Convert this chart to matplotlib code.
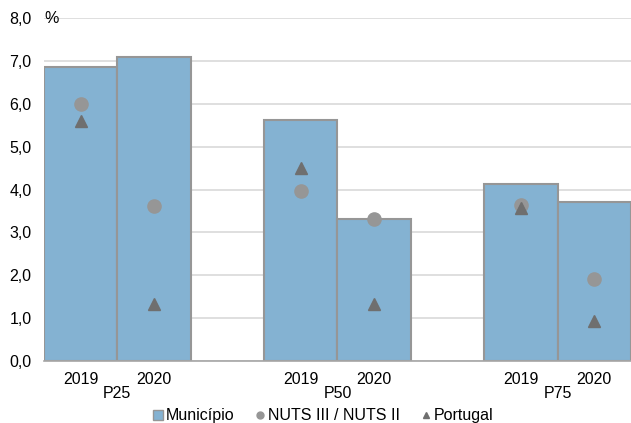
import matplotlib.pyplot as plt
from matplotlib.lines import Line2D
from matplotlib.ticker import FuncFormatter

plt.rcParams['font.family'] = ['Liberation Sans', 'DejaVu Sans']
plt.rcParams['font.size'] = 11.5

groups = ["P25", "P50", "P75"]
years = ["2019", "2020"]
municipio = [6.85, 7.1, 5.62, 3.32, 4.13, 3.71]
nuts = [6.0, 3.61, 3.97, 3.32, 3.63, 1.92]
portugal = [5.6, 1.32, 4.5, 1.32, 3.57, 0.93]

bar_color = "#84B2D2"
edge_color = "#969696"

fig = plt.figure(figsize=(6.31, 4.23), dpi=100)
ax = fig.add_axes([0.0697, 0.1466, 0.9303, 0.8104])

xs = []
for g in range(len(groups)):
    for k in range(len(years)):
        xs.append(g * 3 + k)

ax.bar(xs, municipio, width=1.0, color=bar_color, edgecolor=edge_color, linewidth=1.5, zorder=2)
ax.plot(xs, nuts, 'o', color="#969696", markersize=9.5, linestyle='none', zorder=3)
ax.plot(xs, portugal, '^', color="#6F6F6F", markersize=9, linestyle='none', zorder=4)

ax.set_ylim(0, 8)
ax.set_xlim(-0.5, 7.5)
ax.set_yticks(range(0, 9))
ax.yaxis.set_major_formatter(FuncFormatter(lambda v, p: f"{v:.1f}".replace(".", ",")))
ax.grid(axis='y', color="#D9D9D9", linewidth=1.2, zorder=0)
ax.set_axisbelow(True)

ax.set_xticks(xs)
ax.set_xticklabels(years * len(groups))
ax.tick_params(axis='x', length=0, pad=8)
ax.tick_params(axis='y', length=0, pad=9)

for s in ["top", "right", "left"]:
    ax.spines[s].set_visible(False)
ax.spines["bottom"].set_color("#A6A6A6")
ax.spines["bottom"].set_linewidth(1.2)

for g, name in enumerate(groups):
    ax.text(g * 3 + 0.5, -0.074, name, transform=ax.get_xaxis_transform(),
            ha='center', va='top')

ax.text(0.0, 8.0, "%", ha='left', va='center',
        transform=ax.get_yaxis_transform())

handles = [
    Line2D([], [], marker='s', linestyle='none', markersize=6.5, markerfacecolor=bar_color,
           markeredgecolor=edge_color, markeredgewidth=1.0),
    Line2D([], [], marker='o', linestyle='none', markersize=5, color="#969696"),
    Line2D([], [], marker='^', linestyle='none', markersize=5, color="#6F6F6F"),
]
fig.legend(handles, ["Município", "NUTS III / NUTS II", "Portugal"], loc='lower center',
           bbox_to_anchor=(0.51, -0.035), ncol=3, frameon=False, handletextpad=0.0,
           columnspacing=1.1, handlelength=1.0, fontsize=11.5)

fig.savefig("out.png", dpi=100)
